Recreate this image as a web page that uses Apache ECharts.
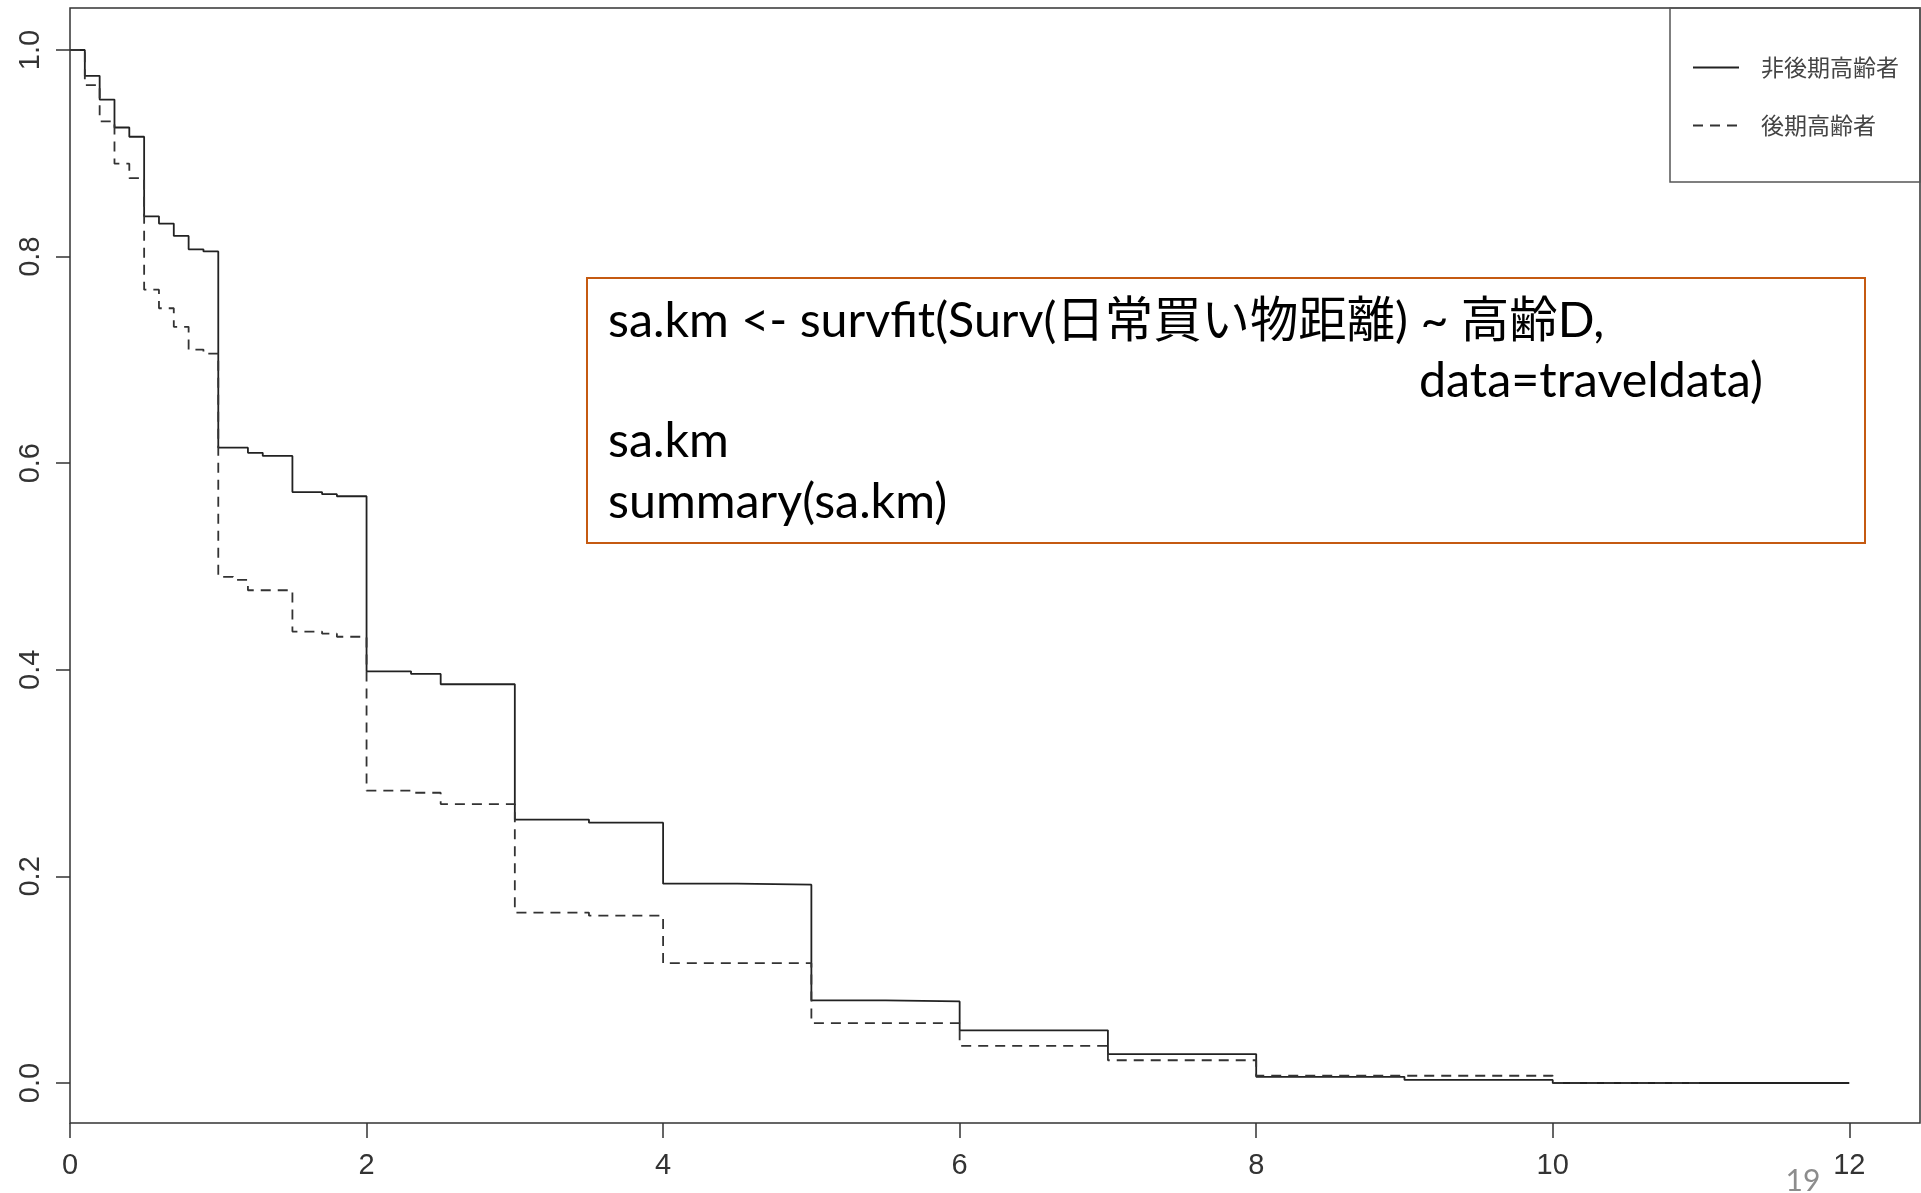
<!DOCTYPE html>
<html>
<head>
<meta charset="utf-8">
<script src="https://cdn.jsdelivr.net/npm/echarts@6/dist/echarts.min.js"></script>
<style>
html,body{margin:0;padding:0;background:#fff;}
#chart{width:1921px;height:1193px;}
</style>
</head>
<body>
<div id="chart"></div>
<script>
// ---- data ----
const groupNames = ['非後期高齢者', '後期高齢者'];
const solidTimes = [0, 0.1, 0.2, 0.3, 0.4, 0.5, 0.6, 0.7, 0.8, 0.9, 1.0, 1.2, 1.3, 1.5, 1.7, 1.8, 2.0, 2.3, 2.5, 3.0, 3.5, 4.0, 4.5, 5.0, 5.5, 6.0, 7.0, 8.0, 9.0, 10.0, 12.0];
const solidSurv  = [1.0, 0.975, 0.952, 0.925, 0.916, 0.839, 0.832, 0.820, 0.807, 0.805, 0.615, 0.610, 0.607, 0.572, 0.570, 0.568, 0.3985, 0.396, 0.386, 0.255, 0.252, 0.193, 0.192, 0.080, 0.079, 0.051, 0.028, 0.006, 0.003, 0.000, 0.000];
const dashTimes  = [0, 0.1, 0.2, 0.3, 0.4, 0.5, 0.6, 0.7, 0.8, 0.9, 1.0, 1.1, 1.2, 1.5, 1.7, 1.8, 2.0, 2.3, 2.5, 3.0, 3.5, 4.0, 5.0, 6.0, 7.0, 8.0, 10.0, 11.0];
const dashSurv   = [1.0, 0.966, 0.931, 0.890, 0.876, 0.768, 0.750, 0.732, 0.710, 0.706, 0.490, 0.487, 0.477, 0.437, 0.435, 0.432, 0.283, 0.281, 0.270, 0.165, 0.162, 0.116, 0.058, 0.036, 0.022, 0.007, 0.000, 0.000];
const xTickStep = 2;
const yTickStep = 0.2;
const codeLines = [
  'sa.km <- survfit(Surv(日常買い物距離) ~ 高齢D,',
  'data=traveldata)',
  'sa.km',
  'summary(sa.km)'
];
const pageNumber = '19';

// ---- layout ----
const codeFont = 'Lato, "Noto Sans CJK JP", sans-serif';
function fitSize(text, targetW, family){
  const c = document.createElement('canvas').getContext('2d');
  c.font = '100px ' + family;
  return 100 * targetW / c.measureText(text).width;
}
const codeSize = fitSize(codeLines[3], 339, codeFont);

const chart = echarts.init(document.getElementById('chart'), null, {renderer:'canvas'});
const axisColor = '#333';
const tickFont = '"Liberation Sans", Arial, sans-serif';

const option = {
  animation: false,
  backgroundColor: '#fff',
  grid: [
    {left: 70, top: 8, right: 1, bottom: 70, show: true, borderColor: axisColor, borderWidth: 1.5, backgroundColor: 'transparent'},
    {left: 70, top: 50, right: 71.7, bottom: 110},
    {left: 70, top: 50, right: 71.7, bottom: 70}
  ],
  xAxis: [
    {gridIndex: 0, type: 'value', min: 0, max: 1, show: false},
    {gridIndex: 1, type: 'value', min: 0, max: 12, interval: xTickStep, show: false},
    {gridIndex: 2, type: 'value', min: 0, max: 12, interval: xTickStep,
     axisLine: {show: false},
     axisTick: {show: true, length: 15, lineStyle: {color: axisColor, width: 1.5}},
     axisLabel: {color: '#333', fontSize: 29, margin: 28, fontFamily: tickFont},
     splitLine: {show: false}}
  ],
  yAxis: [
    {gridIndex: 0, type: 'value', min: 0, max: 1, show: false},
    {gridIndex: 1, type: 'value', min: 0, max: 1, interval: yTickStep,
     axisLine: {show: false},
     axisTick: {show: true, length: 14, lineStyle: {color: axisColor, width: 1.5}},
     axisLabel: {color: '#333', fontSize: 29, margin: 25, rotate: 90,
                 fontFamily: tickFont,
                 formatter: v => v.toFixed(1)},
     splitLine: {show: false}},
    {gridIndex: 2, type: 'value', min: 0, max: 1, show: false}
  ],
  legend: {
    orient: 'vertical', left: 1687, top: 51, itemWidth: 46, itemHeight: 20, itemGap: 35,
    data: groupNames,
    itemStyle: {opacity: 0},
    textStyle: {fontSize: 23, color: '#444', fontFamily: '"Noto Sans CJK JP", sans-serif', padding: [0,0,0,17]},
    selectedMode: false
  },
  series: [
    {name: groupNames[0], type: 'line', xAxisIndex: 1, yAxisIndex: 1, step: 'end', symbol: 'none', clip: false,
     lineStyle: {color: '#222', width: 1.8, type: 'solid'},
     itemStyle: {color: '#555'},
     data: solidTimes.map((t, i) => [t, solidSurv[i]])},
    {name: groupNames[1], type: 'line', xAxisIndex: 1, yAxisIndex: 1, step: 'end', symbol: 'none', clip: false,
     lineStyle: {color: '#333', width: 1.8, type: [10, 7]},
     itemStyle: {color: '#333'},
     data: dashTimes.map((t, i) => [t, dashSurv[i]])}
  ],
  graphic: [
    {type: 'rect', shape: {x: 1670, y: 8, width: 250, height: 174}, style: {fill: 'transparent', stroke: '#555', lineWidth: 1.5}, z: 10},
    {type: 'rect', shape: {x: 587, y: 278, width: 1278, height: 265}, style: {fill: '#fff', stroke: '#C55A11', lineWidth: 2}, z: 10},
    {type: 'text', x: 608, y: 321, style: {text: codeLines[0], font: codeSize.toFixed(1) + 'px ' + codeFont, fill: '#000', textVerticalAlign: 'middle'}, z: 11},
    {type: 'text', x: 1419, y: 381, style: {text: codeLines[1], font: codeSize.toFixed(1) + 'px ' + codeFont, fill: '#000', textVerticalAlign: 'middle'}, z: 11},
    {type: 'text', x: 608, y: 441, style: {text: codeLines[2], font: codeSize.toFixed(1) + 'px ' + codeFont, fill: '#000', textVerticalAlign: 'middle'}, z: 11},
    {type: 'text', x: 608, y: 502, style: {text: codeLines[3], font: codeSize.toFixed(1) + 'px ' + codeFont, fill: '#000', textVerticalAlign: 'middle'}, z: 11},
    {type: 'text', x: 1803, y: 1181, style: {text: pageNumber, font: '30px Lato, sans-serif', fill: '#8c8c8c', textAlign: 'center', textVerticalAlign: 'middle'}, z: 11}
  ]
};
chart.setOption(option);
</script>
</body>
</html>
